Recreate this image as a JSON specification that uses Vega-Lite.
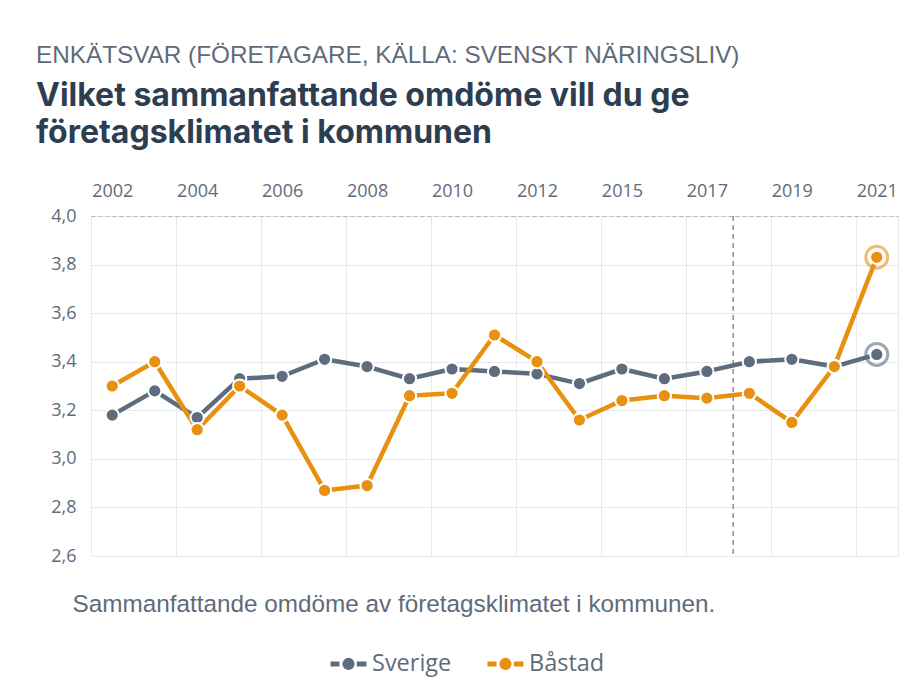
{
  "$schema": "https://vega.github.io/schema/vega-lite/v6.json",
  "width": 807,
  "height": 340,
  "autosize": "none",
  "padding": {"left": 91, "top": 216, "right": 24, "bottom": 141},
  "background": "white",
  "config": {
    "view": {"stroke": "#e6e8eb", "strokeWidth": 1},
    "font": "Open Sans"
  },
  "title": {
    "text": "ENKÄTSVAR (FÖRETAGARE, KÄLLA: SVENSKT NÄRINGSLIV)",
    "subtitle": ["Vilket sammanfattande omdöme vill du ge", "företagsklimatet i kommunen"],
    "anchor": "start",
    "frame": "group",
    "dx": -55,
    "font": "Liberation Sans",
    "fontSize": 24.3,
    "fontWeight": "normal",
    "color": "#5f6b7a",
    "subtitleFont": "Inter",
    "subtitleFontSize": 32,
    "subtitleFontWeight": 700,
    "subtitleColor": "#2c3e50",
    "subtitleLineHeight": 37,
    "subtitlePadding": 13,
    "offset": 33
  },
  "data": {
    "values": [
      {"year": "2002", "series": "Sverige", "value": 3.18},
      {"year": "2003", "series": "Sverige", "value": 3.28},
      {"year": "2004", "series": "Sverige", "value": 3.17},
      {"year": "2005", "series": "Sverige", "value": 3.33},
      {"year": "2006", "series": "Sverige", "value": 3.34},
      {"year": "2007", "series": "Sverige", "value": 3.41},
      {"year": "2008", "series": "Sverige", "value": 3.38},
      {"year": "2009", "series": "Sverige", "value": 3.33},
      {"year": "2010", "series": "Sverige", "value": 3.37},
      {"year": "2011", "series": "Sverige", "value": 3.36},
      {"year": "2012", "series": "Sverige", "value": 3.35},
      {"year": "2014", "series": "Sverige", "value": 3.31},
      {"year": "2015", "series": "Sverige", "value": 3.37},
      {"year": "2016", "series": "Sverige", "value": 3.33},
      {"year": "2017", "series": "Sverige", "value": 3.36},
      {"year": "2018", "series": "Sverige", "value": 3.40},
      {"year": "2019", "series": "Sverige", "value": 3.41},
      {"year": "2020", "series": "Sverige", "value": 3.38},
      {"year": "2021", "series": "Sverige", "value": 3.43},
      {"year": "2002", "series": "Båstad", "value": 3.30},
      {"year": "2003", "series": "Båstad", "value": 3.40},
      {"year": "2004", "series": "Båstad", "value": 3.12},
      {"year": "2005", "series": "Båstad", "value": 3.30},
      {"year": "2006", "series": "Båstad", "value": 3.18},
      {"year": "2007", "series": "Båstad", "value": 2.87},
      {"year": "2008", "series": "Båstad", "value": 2.89},
      {"year": "2009", "series": "Båstad", "value": 3.26},
      {"year": "2010", "series": "Båstad", "value": 3.27},
      {"year": "2011", "series": "Båstad", "value": 3.51},
      {"year": "2012", "series": "Båstad", "value": 3.40},
      {"year": "2014", "series": "Båstad", "value": 3.16},
      {"year": "2015", "series": "Båstad", "value": 3.24},
      {"year": "2016", "series": "Båstad", "value": 3.26},
      {"year": "2017", "series": "Båstad", "value": 3.25},
      {"year": "2018", "series": "Båstad", "value": 3.27},
      {"year": "2019", "series": "Båstad", "value": 3.15},
      {"year": "2020", "series": "Båstad", "value": 3.38},
      {"year": "2021", "series": "Båstad", "value": 3.83}
    ]
  },
  "resolve": {"axis": {"x": "independent"}},
  "layer": [
    {
      "data": {"values": [{"year": "2018"}]},
      "mark": {"type": "rule", "color": "#8a8f96", "strokeWidth": 1.5, "strokeDash": [5, 4]},
      "encoding": {
        "x": {
          "field": "year",
          "type": "ordinal",
          "bandPosition": 0.12,
          "scale": {"type": "band", "paddingInner": 0, "paddingOuter": 0},
          "axis": {
            "orient": "bottom",
            "title": "Sammanfattande omdöme av företagsklimatet i kommunen.",
            "titleFont": "Liberation Sans",
            "titleFontSize": 24.3,
            "titleFontWeight": "normal",
            "titleColor": "#5f6b7a",
            "titleAnchor": "start",
            "titleAlign": "left",
            "titleBaseline": "alphabetic",
            "titleX": -19,
            "titleY": 55,
            "labels": false,
            "ticks": false,
            "domain": false,
            "grid": false
          }
        }
      }
    },
    {
      "mark": {"type": "line", "strokeWidth": 4.5, "strokeJoin": "round"},
      "encoding": {
        "x": {
          "field": "year",
          "type": "ordinal",
          "bandPosition": 0.5,
          "scale": {"type": "band", "paddingInner": 0, "paddingOuter": 0},
          "axis": {
            "orient": "top",
            "title": null,
            "tickBand": "extent",
            "ticks": false,
            "labelPadding": 16,
            "labelFont": "Open Sans",
            "labelFontSize": 18,
            "labelColor": "#5f6b7a",
            "labelAngle": 0,
            "labelOverlap": false,
            "labelExpr": "indexof(['2002','2004','2006','2008','2010','2012','2015','2017','2019','2021'], datum.value) >= 0 ? datum.label : ''",
            "domain": true,
            "domainColor": "#b5b9bf",
            "domainDash": [4, 3],
            "domainWidth": 1.2,
            "grid": true,
            "gridColor": "#e6e8eb",
            "gridOpacity": {
              "condition": {"test": "indexof(['2003','2005','2007','2009','2011','2014','2016','2018','2020'], datum.value) >= 0", "value": 1},
              "value": 0
            }
          }
        },
        "y": {
          "field": "value",
          "type": "quantitative",
          "scale": {"domain": [2.6, 4.0], "nice": false, "zero": false},
          "axis": {
            "title": null,
            "values": [2.6, 2.8, 3.0, 3.2, 3.4, 3.6, 3.8, 4.0],
            "labelExpr": "replace(format(datum.value, '.1f'), '.', ',')",
            "labelFont": "Open Sans",
            "labelFontSize": 18,
            "labelColor": "#5f6b7a",
            "labelPadding": 15,
            "ticks": false,
            "domain": false,
            "grid": true,
            "gridColor": "#e6e8eb"
          }
        },
        "color": {
          "field": "series",
          "type": "nominal",
          "scale": {"domain": ["Sverige", "Båstad"], "range": ["#5e6d7e", "#e8900f"]},
          "legend": {
            "orient": "none",
            "legendX": 237,
            "legendY": 427,
            "direction": "horizontal",
            "title": null,
            "padding": 0,
            "symbolType": "M-1,0H-0.5M0.46,0H1M-0.2,0A0.2,0.2,0,1,0,0.2,0A0.2,0.2,0,1,0,-0.2,0Z",
            "symbolSize": 1296,
            "symbolStrokeWidth": 5,
            "labelFont": "Open Sans",
            "labelFontSize": 23.5,
            "labelColor": "#5f6b7a",
            "labelOffset": 3,
            "columnPadding": 25,
            "encode": {
              "symbols": {
                "update": {
                  "fill": {"scale": "color", "field": "value"},
                  "stroke": {"scale": "color", "field": "value"},
                  "opacity": {"value": 1}
                }
              }
            }
          }
        }
      }
    },
    {
      "transform": [{"filter": "datum.year == '2021'"}],
      "mark": {"type": "point", "filled": false, "size": 480, "strokeWidth": 3, "opacity": 0.6},
      "encoding": {
        "x": {"field": "year", "type": "ordinal", "bandPosition": 0.5, "axis": null},
        "y": {"field": "value", "type": "quantitative"},
        "color": {"field": "series", "type": "nominal"}
      }
    },
    {
      "mark": {"type": "point", "filled": true, "size": 175, "stroke": "white", "strokeWidth": 2, "opacity": 1},
      "encoding": {
        "x": {"field": "year", "type": "ordinal", "bandPosition": 0.5, "axis": null},
        "y": {"field": "value", "type": "quantitative"},
        "color": {"field": "series", "type": "nominal"}
      }
    }
  ]
}
